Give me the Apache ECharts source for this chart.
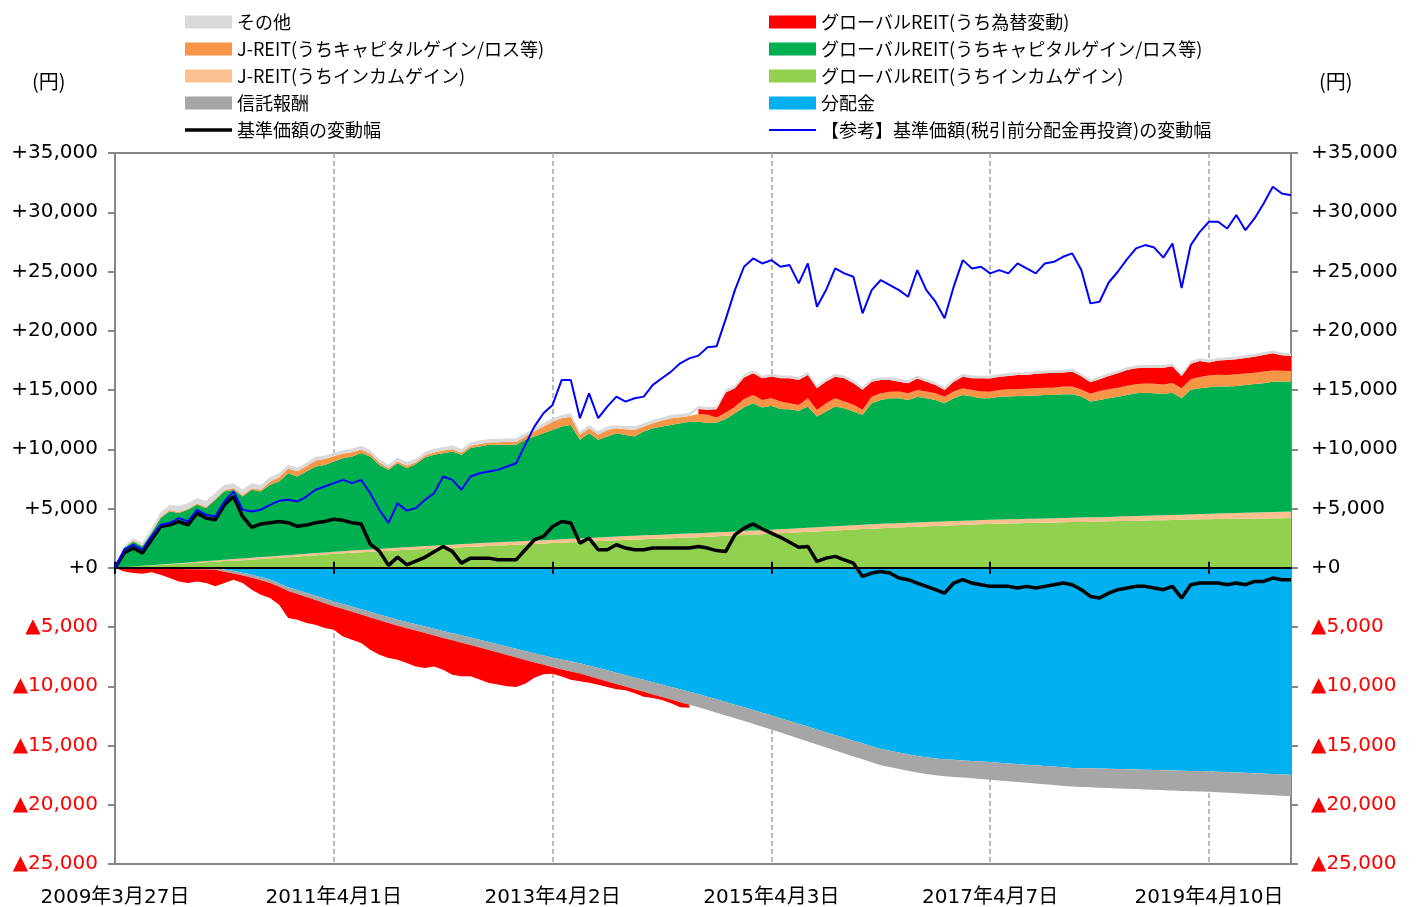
<!DOCTYPE html>
<html>
<head>
<meta charset="utf-8">
<script src="https://cdn.jsdelivr.net/npm/echarts@6/dist/echarts.min.js"></script>
<style>
  html, body { margin: 0; padding: 0; background: #fff; }
  #chart { width: 1416px; height: 907px; }
</style>
</head>
<body>
<div id="chart"></div>
<script>
// observation dates: month ends from 2009-03 to 2019-12; the labelled dates replace the month end next to them
const tickDates = ['2009-03-27', '2011-04-01', '2013-04-02', '2015-04-03', '2017-04-07', '2019-04-10'];
const lastDate = '2019-12-30';
const pad = (n) => String(n).padStart(2, '0');
const dates = [];
for (let k = 0; k < 130; k++) {
  const d = new Date(2009, 3 + k, 0);
  dates.push(`${d.getFullYear()}-${pad(d.getMonth() + 1)}-${pad(d.getDate())}`);
}
tickDates.forEach((s, i) => { dates[i * 24] = s; });
dates[129] = lastDate;

// 分配金 (円)
const distribution = [
  0, 0, 0, 0, 0, 0, 0, 0, 0, 0,
  0, 0, -150, -280, -420, -600, -800, -1000, -1300, -1640,
  -1880, -2120, -2360, -2600, -2840, -3060, -3280, -3500, -3720, -3940,
  -4160, -4380, -4570, -4760, -4950, -5140, -5330, -5520, -5700, -5890,
  -6080, -6270, -6460, -6650, -6840, -7030, -7220, -7400, -7580, -7750,
  -7900, -8060, -8260, -8460, -8660, -8860, -9060, -9260, -9460, -9660,
  -9860, -10060, -10260, -10460, -10660, -10880, -11100, -11330, -11560, -11780,
  -12000, -12230, -12450, -12690, -12930, -13170, -13400, -13640, -13880, -14110,
  -14350, -14590, -14820, -15060, -15300, -15450, -15600, -15740, -15880, -16000,
  -16100, -16160, -16210, -16260, -16310, -16360, -16400, -16450, -16510, -16560,
  -16620, -16670, -16730, -16780, -16840, -16890, -16910, -16930, -16950, -16970,
  -16990, -17010, -17030, -17050, -17070, -17090, -17110, -17130, -17150, -17160,
  -17180, -17210, -17240, -17270, -17300, -17340, -17370, -17400, -17430, -17460
];
// 信託報酬
const trustFee = [
  0, -15, -30, -45, -60, -75, -90, -105, -120, -135,
  -150, -170, -190, -210, -230, -250, -265, -280, -300, -315,
  -330, -350, -370, -390, -410, -425, -440, -455, -470, -485,
  -500, -515, -530, -545, -560, -575, -590, -605, -620, -635,
  -650, -670, -690, -710, -730, -750, -770, -790, -810, -830,
  -850, -870, -890, -910, -930, -950, -970, -990, -1010, -1030,
  -1050, -1065, -1080, -1095, -1110, -1120, -1130, -1140, -1150, -1160,
  -1175, -1190, -1200, -1215, -1230, -1245, -1260, -1275, -1290, -1305,
  -1320, -1330, -1340, -1350, -1360, -1370, -1380, -1390, -1400, -1410,
  -1420, -1430, -1440, -1450, -1460, -1475, -1490, -1500, -1510, -1520,
  -1530, -1540, -1550, -1560, -1570, -1580, -1590, -1600, -1610, -1620,
  -1630, -1640, -1650, -1660, -1670, -1680, -1690, -1700, -1710, -1720,
  -1730, -1740, -1750, -1760, -1770, -1780, -1790, -1800, -1815, -1830
];
// グローバルREIT(うちインカムゲイン)
const globalIncome = [
  0, 50, 100, 150, 195, 240, 290, 340, 390, 430,
  470, 515, 560, 600, 640, 685, 730, 785, 840, 895,
  950, 1010, 1065, 1120, 1180, 1220, 1265, 1305, 1350, 1390,
  1435, 1475, 1520, 1555, 1590, 1625, 1660, 1695, 1730, 1765,
  1800, 1835, 1870, 1905, 1940, 1975, 2010, 2045, 2080, 2115,
  2150, 2180, 2215, 2250, 2285, 2315, 2350, 2380, 2410, 2440,
  2465, 2495, 2525, 2550, 2580, 2615, 2650, 2690, 2725, 2760,
  2800, 2835, 2870, 2910, 2950, 2990, 3030, 3065, 3105, 3145,
  3185, 3225, 3260, 3300, 3340, 3370, 3400, 3430, 3460, 3495,
  3525, 3555, 3585, 3615, 3650, 3680, 3710, 3725, 3740, 3755,
  3775, 3790, 3805, 3820, 3835, 3855, 3870, 3885, 3900, 3915,
  3935, 3950, 3965, 3985, 4000, 4015, 4035, 4050, 4065, 4085,
  4100, 4110, 4120, 4130, 4140, 4150, 4160, 4170, 4180, 4190
];
// J-REIT(うちインカムゲイン)
const jreitIncome = [
  0, 5, 10, 15, 20, 30, 40, 50, 60, 75,
  90, 105, 120, 130, 145, 155, 170, 170, 170, 170,
  170, 170, 170, 170, 170, 180, 185, 190, 195, 200,
  205, 210, 220, 225, 235, 240, 250, 255, 265, 270,
  280, 280, 280, 280, 280, 280, 280, 280, 280, 285,
  290, 295, 300, 305, 310, 315, 320, 322, 325, 328,
  330, 333, 335, 338, 340, 340, 338, 337, 335, 334,
  333, 331, 330, 333, 336, 340, 343, 346, 350, 353,
  356, 360, 363, 366, 370, 368, 365, 363, 360, 358,
  355, 353, 350, 348, 345, 343, 340, 343, 345, 348,
  350, 353, 355, 358, 360, 363, 365, 368, 370, 377,
  383, 390, 397, 403, 410, 417, 423, 430, 437, 443,
  450, 462, 475, 487, 500, 512, 524, 536, 548, 560
];
// グローバルREIT(うちキャピタルゲイン/ロス等)
const globalCapital = [
  0, 1610, 2110, 1640, 2710, 3920, 4420, 4220, 4440, 4810,
  4470, 5110, 5750, 5850, 5230, 5740, 5530, 6050, 6270, 6920,
  6580, 6940, 7310, 7390, 7610, 7840, 7940, 8180, 7850, 7090,
  6620, 7140, 6660, 6970, 7480, 7670, 7760, 7860, 7540, 8060,
  8150, 8260, 8220, 8190, 8150, 8540, 8780, 9030, 9270, 9510,
  9610, 8320, 8840, 8240, 8480, 8720, 8540, 8370, 8760, 9000,
  9120, 9220, 9330, 9440, 9410, 9250, 9270, 9520, 9970, 10440,
  10750, 10360, 10470, 10150, 10100, 9920, 10230, 9350, 9730, 10100,
  9920, 9600, 9280, 10210, 10450, 10560, 10540, 10370, 10620, 10450,
  10280, 9970, 10370, 10620, 10450, 10280, 10250, 10370, 10360, 10400,
  10380, 10390, 10420, 10400, 10450, 10420, 10210, 9770, 9890, 10010,
  10120, 10240, 10360, 10390, 10310, 10240, 10320, 9820, 10510, 10620,
  10680, 10720, 10700, 10720, 10790, 10850, 10890, 11000, 10980, 10960
];
// J-REIT(うちキャピタルゲイン/ロス等)
const jreitCapital = [
  0, 50, 80, 60, 80, 100, 120, 100, 80, 100,
  120, 100, 120, 150, 130, 120, 150, 250, 350, 400,
  450, 450, 500, 500, 450, 400, 350, 300, 250, 200,
  150, 150, 200, 150, 180, 200, 220, 200, 180, 200,
  220, 200, 220, 250, 250, 280, 420, 560, 700, 700,
  700, 420, 420, 420, 560, 420, 480, 560, 420, 420,
  510, 560, 510, 480, 650, 700, 420, 560, 560, 700,
  700, 630, 630, 630, 490, 490, 700, 560, 700, 700,
  560, 560, 420, 560, 560, 560, 560, 560, 560, 560,
  560, 560, 560, 560, 560, 560, 560, 560, 620, 590,
  590, 620, 620, 620, 650, 650, 600, 650, 750, 760,
  760, 780, 760, 780, 800, 800, 820, 850, 900, 950,
  1000, 1000, 980, 1000, 960, 950, 980, 950, 920, 900
];
// グローバルREIT(うち為替変動)
const fxChange = [
  0, -300, -420, -470, -330, -520, -780, -1050, -1170, -1020,
  -1140, -1400, -950, -520, -640, -1000, -1220, -1280, -1520, -2290,
  -2170, -2190, -2070, -2100, -1980, -2310, -2350, -2400, -2720, -2910,
  -2960, -2870, -2940, -3020, -2950, -2610, -2680, -2900, -2840, -2640,
  -2710, -2780, -2710, -2640, -2500, -2000, -1300, -800, -550, -600,
  -700, -650, -550, -500, -470, -450, -300, -350, -420, -300,
  -250, -300, -430, -250, 420, 420, 700, 1690, 1550, 1830,
  1830, 1830, 1830, 1970, 2110, 2110, 1970, 1830, 1830, 1830,
  1970, 1830, 1690, 1260, 1120, 980, 840, 840, 980, 840,
  700, 560, 840, 980, 980, 1120, 1120, 1120, 1120, 1180,
  1180, 1210, 1210, 1260, 1180, 1260, 1120, 980, 1000, 1120,
  1210, 1320, 1350, 1320, 1350, 1400, 1400, 1000, 1300, 1350,
  1100, 1200, 1250, 1250, 1300, 1350, 1400, 1450, 1300, 1260
];
// その他
const others = [
  0, 150, 200, 250, 300, 400, 450, 500, 500, 450,
  500, 500, 450, 400, 450, 450, 400, 400, 350, 300,
  280, 300, 320, 280, 300, 280, 300, 320, 300, 280,
  300, 300, 320, 300, 280, 300, 300, 320, 300, 300,
  280, 300, 300, 280, 300, 280, 280, 300, 280, 280,
  300, 280, 280, 300, 280, 260, 280, 300, 280, 280,
  260, 280, 280, 260, 240, 250, 240, 260, 250, 260,
  250, 240, 250, 240, 240, 250, 240, 250, 260, 240,
  240, 250, 240, 250, 240, 230, 240, 250, 240, 230,
  240, 250, 240, 230, 240, 230, 240, 230, 240, 230,
  230, 240, 230, 220, 230, 240, 230, 240, 250, 240,
  230, 240, 230, 240, 230, 240, 230, 250, 240, 230,
  240, 230, 240, 230, 240, 230, 240, 230, 240, 230
];
// 基準価額の変動幅
const navChange = [
  0, 1240, 1660, 1240, 2360, 3480, 3620, 3900, 3620, 4610,
  4190, 4050, 5310, 6010, 4330, 3400, 3700, 3800, 3900, 3800,
  3500, 3600, 3800, 3900, 4100, 4000, 3800, 3700, 2000, 1400,
  200, 900, 250, 550, 880, 1350, 1800, 1380, 390, 810,
  810, 810, 670, 670, 670, 1520, 2360, 2640, 3480, 3900,
  3770, 2080, 2500, 1520, 1520, 1940, 1660, 1520, 1520, 1660,
  1660, 1660, 1660, 1660, 1800, 1660, 1450, 1380, 2780, 3340,
  3700, 3270, 2920, 2570, 2150, 1730, 1800, 530, 810, 960,
  670, 390, -730, -450, -310, -450, -870, -1010, -1290, -1570,
  -1850, -2140, -1290, -1010, -1290, -1430, -1570, -1570, -1570, -1710,
  -1570, -1710, -1570, -1430, -1290, -1430, -1850, -2420, -2560, -2140,
  -1850, -1710, -1570, -1570, -1710, -1850, -1570, -2560, -1430, -1290,
  -1290, -1290, -1430, -1290, -1430, -1150, -1150, -870, -1010, -1010
];
// 【参考】基準価額(税引前分配金再投資)の変動幅
const navReinvested = [
  0, 1520, 1940, 1520, 2640, 3620, 3770, 4190, 3900, 4890,
  4470, 4330, 5590, 6430, 4890, 4750, 4900, 5300, 5650, 5730,
  5590, 6010, 6580, 6860, 7140, 7420, 7140, 7420, 6290, 4890,
  3770, 5450, 4820, 5030, 5730, 6290, 7700, 7420, 6580, 7700,
  7980, 8120, 8260, 8540, 8820, 10370, 11910, 13040, 13740, 15850,
  15850, 12620, 14720, 12620, 13600, 14440, 14020, 14300, 14440, 15430,
  15990, 16550, 17250, 17670, 17900, 18600, 18700, 21000, 23430, 25400,
  26100, 25680, 25960, 25400, 25540, 24000, 25680, 22030, 23430, 25260,
  24840, 24560, 21470, 23430, 24280, 23860, 23430, 22870, 25120, 23430,
  22450, 21050, 23720, 25960, 25260, 25400, 24840, 25120, 24840, 25680,
  25260, 24840, 25680, 25820, 26240, 26530, 25120, 22310, 22450, 24070,
  24980, 26030, 26950, 27230, 27020, 26170, 27370, 23600, 27230, 28350,
  29200, 29200, 28630, 29760, 28490, 29480, 30740, 32150, 31580, 31440
];

const FONT = "'DejaVu Sans', 'Noto Sans CJK JP', sans-serif";
const JP_FONT = "'Noto Sans CJK JP', sans-serif";

const fmtNum = (v) => String(v).replace(/\B(?=(\d{3})+(?!\d))/g, ',');
const fmtDate = (s) => {
  const [y, m, d] = s.split('-').map(Number);
  return `${y}年${m}月${d}日`;
};

const areaSeries = (name, color, values) => ({
  name,
  type: 'line',
  stack: 'total',
  color,
  symbol: 'none',
  silent: true,
  lineStyle: { width: 0 },
  areaStyle: { color, opacity: 1 },
  emphasis: { disabled: true },
  z: 2,
  data: values,
});

const series = [
  areaSeries('分配金', '#00B0F0', distribution),
  areaSeries('信託報酬', '#A6A6A6', trustFee),
  areaSeries('グローバルREIT(うちインカムゲイン)', '#92D050', globalIncome),
  areaSeries('J-REIT(うちインカムゲイン)', '#FAC090', jreitIncome),
  areaSeries('グローバルREIT(うちキャピタルゲイン/ロス等)', '#00B050', globalCapital),
  areaSeries('J-REIT(うちキャピタルゲイン/ロス等)', '#F79646', jreitCapital),
  areaSeries('グローバルREIT(うち為替変動)', '#FF0000', fxChange.map((v) => (v <= 0 ? v : null))),
  areaSeries('グローバルREIT(うち為替変動)', '#FF0000', fxChange.map((v) => (v > 0 ? v : null))),
  areaSeries('その他', '#D9D9D9', others),
  {
    name: '基準価額の変動幅',
    type: 'line',
    color: '#000000',
    symbol: 'none',
    silent: true,
    lineStyle: { width: 3.5, color: '#000000' },
    emphasis: { disabled: true },
    z: 4,
    data: navChange,
  },
  {
    name: '【参考】基準価額(税引前分配金再投資)の変動幅',
    type: 'line',
    color: '#0000FF',
    symbol: 'none',
    silent: true,
    lineStyle: { width: 2, color: '#0000FF' },
    emphasis: { disabled: true },
    z: 5,
    data: navReinvested,
  },
];

const legendBase = {
  orient: 'vertical',
  top: 12,
  padding: 0,
  itemWidth: 47,
  itemHeight: 13,
  itemGap: 7,
  icon: 'rect',
  selectedMode: false,
  itemStyle: { borderWidth: 0 },
  textStyle: { fontSize: 18, fontFamily: JP_FONT, color: '#000', lineHeight: 20 },
};

const yAxisOf = (right) => ({
  type: 'value',
  min: -25000,
  max: 35000,
  interval: 5000,
  position: right ? 'right' : 'left',
  axisLine: { show: true, onZero: false, lineStyle: { color: '#868686', width: 2 } },
  axisTick: { show: true, length: 7, lineStyle: { color: '#868686', width: 2 } },
  splitLine: { show: false },
  axisLabel: {
    margin: right ? 20 : 17,
    color: '#000',
    fontSize: 20,
    fontFamily: FONT,
    formatter: (v) => (v > 0 ? '+' + fmtNum(v) : v === 0 ? '+0' : '{neg|▲' + fmtNum(-v) + '}'),
    rich: { neg: { color: '#FF0000', fontSize: 20, fontFamily: FONT } },
  },
});

const option = {
  animation: false,
  backgroundColor: '#fff',
  grid: {
    left: 115, right: 125, top: 153, bottom: 43,
    outerBoundsMode: 'none',
    containLabel: false,
    show: true, borderColor: '#868686', borderWidth: 2, backgroundColor: 'transparent',
  },
  legend: [
    Object.assign({}, legendBase, {
      left: 185,
      data: [
        'その他',
        'J-REIT(うちキャピタルゲイン/ロス等)',
        'J-REIT(うちインカムゲイン)',
        '信託報酬',
        { name: '基準価額の変動幅', icon: 'path://M0,0L47,0L47,3.5L0,3.5Z' },
      ],
    }),
    Object.assign({}, legendBase, {
      left: 769,
      data: [
        'グローバルREIT(うち為替変動)',
        'グローバルREIT(うちキャピタルゲイン/ロス等)',
        'グローバルREIT(うちインカムゲイン)',
        '分配金',
        { name: '【参考】基準価額(税引前分配金再投資)の変動幅', icon: 'path://M0,0L47,0L47,1.8L0,1.8Z' },
      ],
    }),
  ],
  graphic: [
    { type: 'text', left: 32, top: 71, style: { text: '(円)', font: `20px ${JP_FONT}`, fill: '#000' } },
    { type: 'text', left: 1319, top: 71, style: { text: '(円)', font: `20px ${JP_FONT}`, fill: '#000' } },
  ],
  xAxis: [
    {
      type: 'category', data: dates, boundaryGap: false, position: 'bottom', z: 3,
      axisLine: { show: true, onZero: true, lineStyle: { color: '#000', width: 2 } },
      axisTick: { show: true, inside: true, length: 6, interval: 23, lineStyle: { color: '#000', width: 2 } },
      axisLabel: { show: false },
      splitLine: { show: false },
    },
    {
      type: 'category', data: dates, boundaryGap: false, position: 'bottom', z: 3,
      axisLine: { show: false, onZero: true },
      axisTick: { show: true, inside: false, length: 6, interval: 23, lineStyle: { color: '#000', width: 2 } },
      axisLabel: { show: false },
      splitLine: { show: false },
    },
    {
      type: 'category', data: dates, boundaryGap: false, position: 'bottom',
      axisLine: { show: true, onZero: false, lineStyle: { color: '#868686', width: 2 } },
      axisTick: { show: false },
      axisLabel: {
        show: true, interval: 23, formatter: fmtDate,
        fontSize: 20, fontFamily: FONT, color: '#000', margin: 24,
      },
      splitLine: { show: true, interval: 23, lineStyle: { color: '#A6A6A6', type: [5, 3], width: 1.5 } },
    },
  ],
  yAxis: [yAxisOf(false), yAxisOf(true)],
  series,
};

const myChart = echarts.init(document.getElementById('chart'));
myChart.setOption(option);
</script>
</body>
</html>
